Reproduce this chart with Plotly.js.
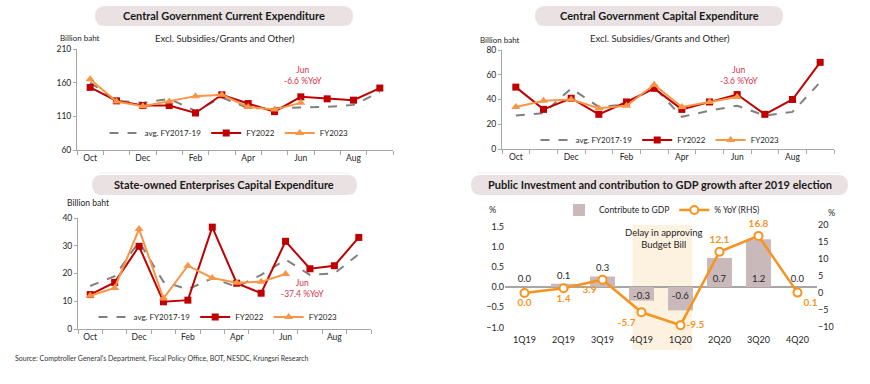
<!DOCTYPE html>
<html>
<head>
<meta charset="utf-8">
<script src="https://cdn.plot.ly/plotly-3.0.1.min.js"></script>
<style>html,body{margin:0;padding:0;background:#fff;}#chart{width:870px;height:384px;}</style>
</head>
<body>
<div id="chart"></div>
<script>
// ---------- data ----------
const months = ['Oct','Nov','Dec','Jan','Feb','Mar','Apr','May','Jun','Jul','Aug','Sep'];
const monthTicks = ['Oct','','Dec','','Feb','','Apr','','Jun','','Aug',''];
const months23 = ['Oct','Nov','Dec','Jan','Feb','Mar','Apr','May','Jun'];

const curAvg = [160,133,130,136,118,138,122,122,123,124,127,146];
const cur22  = [153,133,126,126,115,142,129,117,139,136,134,152];
const cur23  = [165,132,125,132,140,142,124,120,130];

const capAvg = [27,29,49,34,36,50,26,31,35,27,30,54];
const cap22  = [50,32,41,28,38,49,32,38,44,28,40,70];
const cap23  = [34,39,40,33,35,52,34,38,42];

const soeAvg = [15.5,19,31.5,17,14.3,18.3,15.2,19.5,25,19.5,20,27];
const soe22  = [12.4,16.8,29.8,9.8,10.4,36.7,16.5,12.9,31.6,21.7,22.8,33];
const soe23  = [12,14.8,36,11,22.8,18.4,16.7,17,19.8];

const quarters = ['1Q19','2Q19','3Q19','4Q19','1Q20','2Q20','3Q20','4Q20'];
const contrib  = [0.0,0.08,0.26,-0.34,-0.58,0.72,1.18,0.0];
const yoy      = [0.0,1.4,3.9,-5.7,-9.5,12.1,16.8,0.1];

const yoyNotes = ['Jun<br>-6.6 %YoY','Jun<br>-3.6 %YoY','Jun<br>-37.4 %YoY'];

// ---------- helpers ----------
const W = 870, H = 384;
const px = x => x / W;
const py = y => 1 - y / H;
function pill(x0, y0, x1, y1, r) {
  const X = v => px(v).toFixed(5), Y = v => py(v).toFixed(5);
  return `M${X(x0+r)},${Y(y0)} L${X(x1-r)},${Y(y0)} Q${X(x1)},${Y(y0)} ${X(x1)},${Y(y0+r)} ` +
         `L${X(x1)},${Y(y1-r)} Q${X(x1)},${Y(y1)} ${X(x1-r)},${Y(y1)} L${X(x0+r)},${Y(y1)} ` +
         `Q${X(x0)},${Y(y1)} ${X(x0)},${Y(y1-r)} L${X(x0)},${Y(y0+r)} Q${X(x0)},${Y(y0)} ${X(x0+r)},${Y(y0)} Z`;
}

const RED = '#c00000', ORANGE = '#f79646', GREY = '#808080', ORG2 = '#f7931e';
const TXT = '#262626';

function lineSet(xa, ya, lg, avg, s22, s23) {
  return [
    {x: months, y: avg, xaxis: xa, yaxis: ya, legend: lg, name: 'avg. FY2017-19', type: 'scatter', mode: 'lines',
     line: {color: GREY, width: 2, dash: 'dash'}},
    {x: months, y: s22, xaxis: xa, yaxis: ya, legend: lg, name: 'FY2022', type: 'scatter', mode: 'lines+markers',
     line: {color: RED, width: 2}, marker: {symbol: 'square', size: 7, color: RED}},
    {x: months23, y: s23, xaxis: xa, yaxis: ya, legend: lg, name: 'FY2023', type: 'scatter', mode: 'lines+markers',
     line: {color: ORANGE, width: 2}, marker: {symbol: 'triangle-up', size: 8, color: ORANGE}}
  ];
}

const traces = [
  ...lineSet('x', 'y', 'legend', curAvg, cur22, cur23),
  ...lineSet('x2', 'y2', 'legend2', capAvg, cap22, cap23),
  ...lineSet('x3', 'y3', 'legend3', soeAvg, soe22, soe23),
  {x: quarters, y: contrib, xaxis: 'x4', yaxis: 'y4', legend: 'legend4', name: 'Contribute to GDP', type: 'bar',
   marker: {color: '#c9b9bb'}, texttemplate: '%{y:.1f}',
   textposition: ['outside','outside','outside','inside','inside','inside','inside','outside'],
   insidetextanchor: 'start', constraintext: 'none', cliponaxis: false,
   textfont: {size: 9.5, color: TXT}, insidetextfont: {size: 9.5, color: TXT}, outsidetextfont: {size: 9.5, color: TXT}},
  {x: quarters, y: yoy, xaxis: 'x4', yaxis: 'y5', legend: 'legend4', name: '% YoY (RHS)', type: 'scatter',
   mode: 'lines+markers+text', texttemplate: '%{y:.1f}', cliponaxis: false,
   textposition: ['bottom center','bottom center','bottom left','bottom left','middle right','top center','top center','bottom right'],
   textfont: {size: 10, color: ORG2, weight: 'bold'},
   line: {color: ORG2, width: 2.5},
   marker: {symbol: 'circle', size: 8, color: '#ffffff', line: {color: ORG2, width: 2}}}
];

function xCat(dom, anchor) {
  return {domain: [px(dom[0]), px(dom[1])], anchor: anchor, type: 'category', categoryarray: months,
    range: [-0.5, 11.5], autorange: false,
    tickmode: 'array', tickvals: months, ticktext: monthTicks, tickson: 'boundaries', tickangle: 0,
    showline: true, linecolor: '#a6a6a6', linewidth: 1, ticks: 'outside', ticklen: 4, tickcolor: '#a6a6a6',
    showgrid: false, zeroline: false, tickfont: {size: 8.5, color: TXT}, fixedrange: true};
}
function yLin(top, bot, anchor, range, dtick) {
  return {domain: [py(bot), py(top)], anchor: anchor, range: range, autorange: false, dtick: dtick, tick0: range[0],
    showline: true, linecolor: '#a6a6a6', linewidth: 1, ticks: 'outside', ticklen: 3, tickcolor: '#a6a6a6',
    showgrid: false, zeroline: false, tickfont: {size: 8.5, color: TXT}, fixedrange: true};
}

const legendBase = {orientation: 'h', xanchor: 'center', yanchor: 'middle', bgcolor: 'rgba(0,0,0,0)',
  font: {size: 8, color: TXT}, itemwidth: 30, tracegroupgap: 0};

const annFont = {family: 'Lato, sans-serif', color: TXT};
function ann(text, x, y, opts) {
  return Object.assign({text: text, xref: 'paper', yref: 'paper', x: px(x), y: py(y), showarrow: false,
    xanchor: 'center', yanchor: 'middle', font: Object.assign({}, annFont, {size: 9})}, opts || {});
}

const titleFont = {family: 'Lato, sans-serif', size: 11, color: '#1a1a1a', weight: 'bold'};

const layout = {
  width: W, height: H, margin: {l: 0, r: 0, t: 0, b: 0},
  paper_bgcolor: '#ffffff', plot_bgcolor: 'rgba(0,0,0,0)',
  font: {family: 'Lato, sans-serif', color: TXT},
  showlegend: true, bargap: 0.36,
  xaxis: xCat([77, 393], 'y'),
  yaxis: yLin(49, 150, 'x', [60, 210], 50),
  xaxis2: xCat([502, 834], 'y2'),
  yaxis2: yLin(50, 149, 'x2', [0, 80], 20),
  xaxis3: xCat([78, 371], 'y3'),
  yaxis3: yLin(218, 329, 'x3', [0, 40], 10),
  xaxis4: {domain: [px(505), px(817)], anchor: 'y4', type: 'category', categoryarray: quarters,
    range: [-0.5, 7.5], autorange: false,
    showline: false, ticks: '', showgrid: false, zeroline: false, tickangle: 0, tickfont: {size: 9, color: TXT}, fixedrange: true},
  yaxis4: {domain: [py(333), py(205)], anchor: 'x4', range: [-1.14, 2.03], autorange: false, tickmode: 'array',
    tickvals: [-1, -0.5, 0, 0.5, 1, 1.5], tickformat: '.1f', showline: false, ticks: '', showgrid: false,
    zeroline: true, zerolinecolor: '#a6a6a6', zerolinewidth: 1.5, tickfont: {size: 9, color: TXT}, fixedrange: true},
  yaxis5: {overlaying: 'y4', side: 'right', anchor: 'x4', range: [-11.8, 25.9], autorange: false, tickmode: 'array',
    tickvals: [-10, -5, 0, 5, 10, 15, 20], showline: false, ticks: '', showgrid: false, zeroline: false,
    tickfont: {size: 9, color: TXT}, fixedrange: true},
  legend:  Object.assign({}, legendBase, {x: px(229), y: py(133)}),
  legend2: Object.assign({}, legendBase, {x: px(660), y: py(140)}),
  legend3: Object.assign({}, legendBase, {x: px(218), y: py(317)}),
  legend4: Object.assign({}, legendBase, {x: px(662), y: py(210), font: {size: 8.5, color: TXT}}),
  shapes: [
    {type: 'path', xref: 'paper', yref: 'paper', path: pill(95, 6, 353, 26, 10), fillcolor: '#eae2e2', line: {width: 0}, layer: 'below'},
    {type: 'path', xref: 'paper', yref: 'paper', path: pill(535, 6, 783, 26, 10), fillcolor: '#eae2e2', line: {width: 0}, layer: 'below'},
    {type: 'path', xref: 'paper', yref: 'paper', path: pill(92, 175, 357, 195, 10), fillcolor: '#eae2e2', line: {width: 0}, layer: 'below'},
    {type: 'path', xref: 'paper', yref: 'paper', path: pill(471, 175, 848, 195, 10), fillcolor: '#eae2e2', line: {width: 0}, layer: 'below'},
    {type: 'line', xref: 'paper', yref: 'paper', x0: px(100), x1: px(350), y0: py(173), y1: py(173), line: {color: '#f0f0f0', width: 1}},
    {type: 'line', xref: 'paper', yref: 'paper', x0: px(478), x1: px(840), y0: py(173), y1: py(173), line: {color: '#f0f0f0', width: 1}},
    {type: 'rect', xref: 'x4', yref: 'paper', x0: 2.77, x1: 4.3, y0: py(350), y1: py(225), fillcolor: '#fdf1df', line: {width: 0}, layer: 'below'}
  ],
  annotations: [
    ann('Central Government Current Expenditure', 224, 16, {font: titleFont}),
    ann('Central Government Capital Expenditure', 659, 16, {font: titleFont}),
    ann('State-owned Enterprises Capital Expenditure', 224.5, 185, {font: titleFont}),
    ann('Public Investment and contribution to GDP growth after 2019 election', 659.5, 185, {font: titleFont}),
    ann('Billion baht', 58, 38, {xanchor: 'left', font: Object.assign({}, annFont, {size: 8})}),
    ann('Excl. Subsidies/Grants and Other)', 225, 38, {font: Object.assign({}, annFont, {size: 9.5})}),
    ann('Billion baht', 478, 40, {xanchor: 'left', font: Object.assign({}, annFont, {size: 8})}),
    ann('Excl. Subsidies/Grants and Other)', 660, 38, {font: Object.assign({}, annFont, {size: 9.5})}),
    ann('Billion baht', 65, 203, {xanchor: 'left', font: Object.assign({}, annFont, {size: 8.5})}),
    ann(yoyNotes[0], 303, 75, {font: Object.assign({}, annFont, {size: 8.5, color: '#d6324b'})}),
    ann(yoyNotes[1], 739, 76, {font: Object.assign({}, annFont, {size: 8.5, color: '#d6324b'})}),
    ann(yoyNotes[2], 302, 288, {font: Object.assign({}, annFont, {size: 8.5, color: '#d6324b'})}),
    ann('%', 492, 209, {font: Object.assign({}, annFont, {size: 9})}),
    ann('%', 831, 212, {font: Object.assign({}, annFont, {size: 9})}),
    ann('Delay in approving<br>Budget Bill', 664, 238.5, {font: Object.assign({}, annFont, {size: 9.5})}),
    ann("Source: Comptroller General's Department, Fiscal Policy Office, BOT, NESDC, Krungsri Research", 13, 358,
        {xanchor: 'left', font: Object.assign({}, annFont, {size: 7, color: '#333333'})})
  ]
};

Plotly.newPlot('chart', traces, layout, {displayModeBar: false, staticPlot: true});
</script>
</body>
</html>
